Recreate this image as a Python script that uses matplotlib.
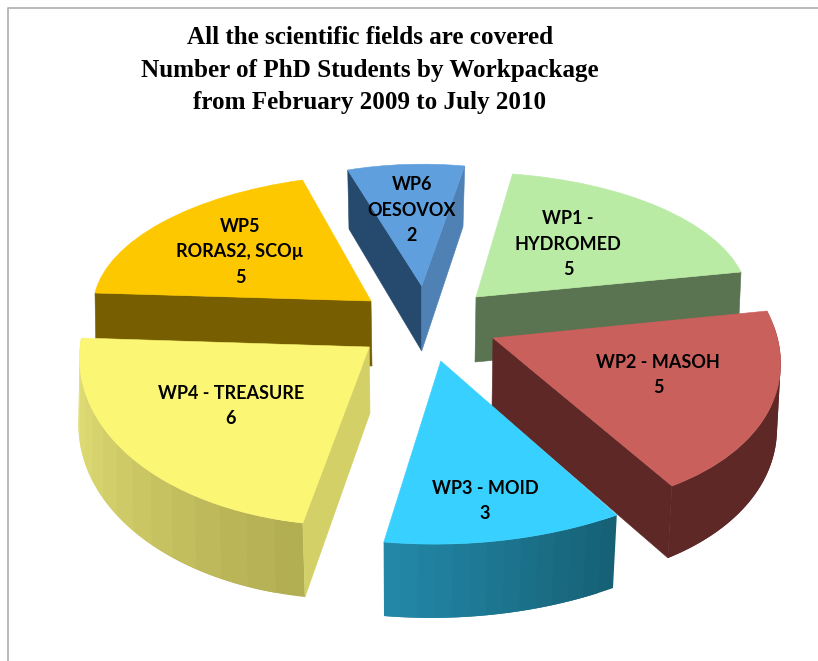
import numpy as np
import matplotlib
matplotlib.use("Agg")
import matplotlib.pyplot as plt
from matplotlib.patches import Wedge, Polygon
from matplotlib.transforms import Affine2D
from matplotlib.colors import to_rgb

# ---- data ----
packages = ["WP1", "WP2", "WP3", "WP4", "WP5", "WP6"]
students = [5, 5, 3, 6, 5, 2]
slice_labels = ["WP1 -\nHYDROMED\n5", "WP2 - MASOH\n5", "WP3 - MOID\n3",
                "WP4 - TREASURE\n6", "WP5\nRORAS2, SCOµ\n5", "WP6\nOESOVOX\n2"]
title_lines = ["All the scientific fields are covered",
               "Number of PhD Students by Workpackage",
               "from February 2009 to July 2010"]

# ---- view of each exploded slice (origin + radius vectors, top and bottom disc) ----
views = {
    "WP1": dict(top=((476, 297), (36.5, -123), (265, -25)), bot=((475, 362), (36, -123), (263, -24))),
    "WP2": dict(top=((493, 338), (274, -27), (179, 148)), bot=((492, 406), (272, -31), (176, 152))),
    "WP3": dict(top=((440.8, 361), (176, 154), (-57, 181)), bot=((441, 436), (172, 152), (-57, 180))),
    "WP4": dict(top=((369.3, 347), (-66.5, 176), (-288, -9)), bot=((370, 413), (-65, 184), (-290, -8))),
    "WP5": dict(top=((371, 301), (-276, -8), (-68.5, -121)), bot=((372, 366), (-276, -8), (-68, -121))),
    "WP6": dict(top=((421.7, 286), (-74, -116), (43, -120)), bot=((421.7, 351), (-72.7, -122), (41.3, -124.3))),
}
styles = {
    "WP1": dict(face="#B9EBA5", end="#5A7350"),
    "WP2": dict(face="#C9605C", end="#5E2827", arc=("#5E2827", "#5E2827")),
    "WP3": dict(face="#38D1FF", arc=("#2389A9", "#155F74")),
    "WP4": dict(face="#FBF674", start="#D2D066", arc=("#E8E47A", "#B0AC50")),
    "WP5": dict(face="#FDC800", start="#775E00"),
    "WP6": dict(face="#5F9FDD", start="#264A6E", end="#4F81B5"),
}
label_xy = {"WP1": (568, 244), "WP2": (658, 375), "WP3": (485, 501),
            "WP4": (231, 406), "WP5": (240, 252), "WP6": (412, 210)}
paint_order = ["WP6", "WP5", "WP1", "WP2", "WP4", "WP3"]

fig = plt.figure(figsize=(8.18, 6.61), dpi=100, facecolor="white")
ax = fig.add_axes([0, 0, 1, 1])
ax.set_xlim(0, 818)
ax.set_ylim(661, 0)
ax.axis("off")

# chart frame
ax.plot([818, 7.5, 7.5], [7.5, 7.5, 661], color="#B4B4B4", lw=1.3, zorder=1)

# angles from the data: clockwise, math degrees
fractions = np.array(students, dtype=float) / sum(students)
edges = 90 - 360 * np.concatenate([[0], np.cumsum(fractions)])


def unit(deg):
    r = np.radians(deg)
    return np.array([np.cos(r), np.sin(r)])


def matrix(view, a0, a1):
    (ox, oy), ea, eb = view
    E = np.column_stack([ea, eb])
    U = np.column_stack([unit(a0), unit(a1)])
    M = E @ np.linalg.inv(U)
    return M, np.array([ox, oy], dtype=float)


def project(M, o, deg):
    return o + M @ unit(deg)


z = 2
for name in paint_order:
    i = packages.index(name)
    a0, a1 = edges[i], edges[i + 1]
    st = styles[name]
    Mt, Ot = matrix(views[name]["top"], a0, a1)
    Mb, Ob = matrix(views[name]["bot"], a0, a1)

    # outer wall, in shaded strips; each strip runs under the next to hide seams
    if "arc" in st:
        n = 14
        c0, c1 = np.array(to_rgb(st["arc"][0])), np.array(to_rgb(st["arc"][1]))
        left_first = project(Mt, Ot, a0)[0] < project(Mt, Ot, a1)[0]
        grid = np.linspace(a0, a1, n + 1)
        for k in range(n):
            ss = np.linspace(grid[k], grid[min(k + 2, n)], 9)
            pts = [project(Mt, Ot, s) for s in ss] + [project(Mb, Ob, s) for s in ss[::-1]]
            f = (k + 0.5) / n if left_first else 1 - (k + 0.5) / n
            col = c0 + (c1 - c0) * f
            ax.add_patch(Polygon(pts, closed=True, fc=col, ec="none", zorder=z))
            z += 1

    # radial walls
    for key, ang in (("start", a0), ("end", a1)):
        if key in st:
            pts = [Ot, project(Mt, Ot, ang), project(Mb, Ob, ang), Ob]
            ax.add_patch(Polygon(pts, closed=True, fc=st[key], ec=st[key], lw=0.4, zorder=z))
            z += 1

    # top face: a Wedge on the unit circle seen through the slice's own view
    tr = Affine2D(np.array([[Mt[0, 0], Mt[0, 1], Ot[0]],
                            [Mt[1, 0], Mt[1, 1], Ot[1]],
                            [0, 0, 1]])) + ax.transData
    ax.add_patch(Wedge((0, 0), 1, a1, a0, fc=st["face"], ec=st["face"], lw=0.4,
                       transform=tr, zorder=z))
    z += 1

# labels
for name, text in zip(packages, slice_labels):
    x, y = label_xy[name]
    ax.text(x, y, text, ha="center", va="center", family=["Lato", "DejaVu Sans"],
            fontweight="bold", fontsize=13, color="black", linespacing=1.58, zorder=1000)

# title
for line, y in zip(title_lines, (37, 69, 101)):
    ax.text(370, y + 1, line, ha="center", va="center", family="Liberation Serif",
            fontweight="bold", fontsize=18.1, color="black", zorder=1000)

fig.savefig("out.png", dpi=100)
